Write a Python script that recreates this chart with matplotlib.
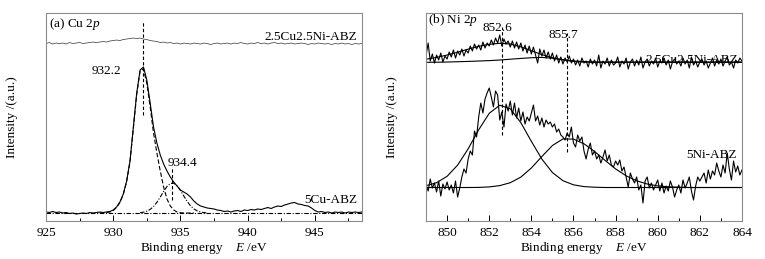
import numpy as np
import matplotlib
matplotlib.use("Agg")
import matplotlib.pyplot as plt
from matplotlib.ticker import MultipleLocator

plt.rcParams["font.family"] = ["Liberation Serif", "DejaVu Serif"]
plt.rcParams["mathtext.fontset"] = "custom"
plt.rcParams["mathtext.rm"] = "Liberation Serif"
plt.rcParams["mathtext.it"] = "Liberation Serif:italic"
plt.rcParams["font.size"] = 9.5

# ---- (a) Cu 2p : binding energy grid 925 .. 948.5 eV, step 0.25
cu_start, cu_stop, cu_step = 925.0, 948.5, 0.25

cu_ni_top = [
    177.5, 178.5, 177, 178,   177.5, 178, 177, 178.5,   177.5, 178, 178.5, 177.5,
    178, 178.5, 179, 178.5,   179, 179.5, 179, 180,     180.5, 181, 180.5, 181.5,
    182, 182.5, 183, 182.5,   183, 182, 181.5, 180.5,   180, 179.5, 178.5, 179,
    178, 178.5, 177.5, 178,   177, 178, 177.5, 177,     178, 177.5, 177, 178,
    177.5, 176.5, 177.5, 178, 177, 177.5, 178, 177,     178, 177.5, 178.5, 177.5,
    177, 178, 177.5, 178.5,   177.5, 178, 177, 178,     178.5, 177.5, 178, 177,
    177.5, 178, 177, 177.5,   178, 177.5, 176.5, 177.5, 177, 178, 177.5, 177,
    177.5, 176.5, 177.5, 177, 178, 177, 177.5, 176.5,   177.5, 177, 177.5,
]

cu_5cu = [
    9, 8.5, 9.5, 8.5,     9, 8, 8.5, 7.5,       8, 7, 7.5, 8,         7.5, 8.5, 8, 8.5,
    9, 8.5, 9, 9.5,       11, 14, 19, 27,       40, 60, 94, 128,      151, 154, 141, 118,
    94, 78, 66, 57,       50, 44, 39, 35,       31, 29, 27, 24,       20, 17, 15, 14,
    13, 12.5, 12, 11,     10.5, 9.5, 10, 9,     10, 10.5, 9.5, 11,    10.5, 11.5, 11, 12,
    11.5, 12.5, 13.5, 12.5, 14, 15, 14.5, 16,   17, 18, 18.5, 17,     16.5, 15.5, 15, 13,
    10.5, 9, 9.5, 8.5,    9, 8, 9, 8.5,         9, 8, 9, 8.5,         9, 8.5, 9,
]

# fitted components (929.0 .. 936.0 and 932.0 .. 937.0, step 0.25)
cu_peak1 = [8, 8.2, 8.5, 9, 10.5, 13.5, 18.5, 26.5, 39.5, 59.5, 93, 127,
            150, 152, 138, 114, 88, 68, 50, 34, 22, 15, 11, 9, 8.3, 8, 8, 8, 8]
cu_peak2 = [8.3, 8.8, 9.8, 11.6, 14.5, 18.7, 23.9, 29.6, 34.5, 37.5, 37.8,
            35.3, 30.6, 25.1, 19.7, 15.2, 12.1, 10.1, 9.0, 8.4, 8.2]
cu_base = 8

# ---- (b) Ni 2p : binding energy grid 849 .. 864 eV, step 0.1
ni_start, ni_stop, ni_step = 849.0, 864.0, 0.1

ni_cu_top = [
    165, 178, 160, 167, 158, 166, 161, 168, 159, 165,
    162, 169, 164, 171, 163, 170, 166, 172, 165, 171,
    168, 175, 170, 177, 172, 176, 171, 179, 173, 178,
    175, 181, 176, 183, 178, 186, 175, 182, 177, 180,
    174, 180, 173, 179, 172, 178, 170, 176, 168, 175,
    167, 174, 166, 158, 172, 165, 171, 163, 169, 162,
    168, 160, 166, 158, 164, 157, 163, 159, 165, 158,
    162, 156, 161, 155, 163, 158, 160, 154, 162, 157,
    161, 155, 166, 153, 160, 157, 163, 155, 161, 156,
    158, 164, 154, 160, 157, 163, 152, 159, 162, 155,
    161, 156, 164, 153, 159, 162, 155, 160, 157, 163,
    154, 160, 158, 163, 156, 161, 152, 159, 162, 157,
    160, 155, 163, 157, 161, 153, 164, 156, 160, 154,
    159, 162, 156, 160, 153, 158, 163, 155, 161, 157,
    162, 155, 160, 164, 156, 159, 153, 161, 158, 163,
    160,
]

ni_5ni = [
    36, 30, 42, 33, 38, 29, 40, 25, 37, 32,
    39, 31, 36, 28, 40, 24, 33, 44, 52, 48,
    62, 70, 66, 90, 84, 104, 118, 108, 122, 128,
    133, 124, 114, 130, 126, 101, 109, 94, 117, 110,
    120, 106, 118, 103, 113, 100, 109, 97, 104, 100,
    108, 116, 100, 105, 96, 103, 94, 101, 97, 99,
    94, 97, 89, 92, 86, 84, 81, 88, 84, 94,
    78, 74, 86, 80, 84, 70, 62, 72, 78, 66,
    70, 62, 66, 58, 64, 71, 60, 66, 56, 54,
    60, 56, 61, 50, 54, 44, 34, 48, 42, 38,
    44, 31, 36, 18, 40, 44, 33, 38, 31, 36,
    41, 30, 38, 28, 35, 30, 40, 34, 24, 31,
    36, 28, 41, 33, 38, 44, 30, 21, 35, 44,
    40, 44, 48, 38, 51, 42, 50, 46, 58, 50,
    44, 56, 48, 68, 52, 41, 60, 49, 55, 46,
    51,
]

# fitted components, 849 .. 864 eV step 0.5
ni_top_peak1 = [161.8, 163.6, 166.0, 168.8, 171.9, 174.7, 176.7, 177.7, 177.0,
                174.2, 170.3, 166.4, 163.3, 161.2, 160.0, 159.4, 159.1] + [159.0] * 14
ni_top_peak2 = [158.7, 158.8, 159.0, 159.3, 159.6, 160.0, 160.4, 161.0, 161.8,
                162.6, 163.3, 163.6, 162.8, 161.2, 159.6, 158.9] + [158.7] * 15
ni_bot_peak1 = [35.3, 38.3, 44.7, 55.9, 72.2, 91.2, 107.7, 115.8, 112.2, 98.4,
                79.7, 61.9, 48.5, 40.3, 36.2, 34.4, 33.8] + [33.5] * 14
ni_bot_peak2 = [33.5] * 5 + [33.6, 34.1, 35.4, 38.3, 43.9, 53.0, 64.5, 75.5, 82.1,
                             81.9, 77.2, 69.6, 60.6, 52.1, 45.2, 40.2, 37.0, 35.1,
                             34.2, 33.8] + [33.5] * 6

e_cu = np.round(np.arange(cu_start, cu_stop + 1e-6, cu_step), 2)
e_ni = np.round(np.arange(ni_start, ni_stop + 1e-6, ni_step), 2)
e_cu1 = np.arange(929.0, 936.0 + 1e-6, 0.25)
e_cu2 = np.arange(932.0, 937.0 + 1e-6, 0.25)
e_nifit = np.arange(849.0, 864.0 + 1e-6, 0.5)

fig = plt.figure(figsize=(7.65, 2.59), dpi=100)
ax1 = fig.add_axes([0.0601, 0.1467, 0.413, 0.803])
ax2 = fig.add_axes([0.5569, 0.1467, 0.413, 0.803])

lw = 0.8
dash = (0, (3, 2))

# panel (a)
ax1.plot(e_cu, cu_ni_top, color="#333333", lw=0.5)
ax1.plot(e_cu, cu_5cu, color="black", lw=lw)
ax1.plot(e_cu1, cu_peak1, color="black", lw=lw, ls=(0, (4, 2)))
ax1.plot(e_cu2, cu_peak2, color="black", lw=lw, ls=(0, (4, 1.5, 1, 1.5)))
ax1.plot([cu_start, cu_stop], [cu_base, cu_base], color="black", lw=lw,
         ls=(0, (4, 1.5, 1, 1.5)))
ax1.plot([932.2, 932.2], [106, 199], color="black", lw=lw, ls=dash)
ax1.plot([934.4, 934.4], [21, 54], color="black", lw=lw, ls=dash)

ax1.text(925.25, 197, "(a) Cu 2$p$", va="center", ha="left")
ax1.text(948.13, 184, "2.5Cu2.5Ni-ABZ", va="center", ha="right")
ax1.text(929.48, 150, "932.2", va="center", ha="center")
ax1.text(935.13, 58, "934.4", va="center", ha="center")
ax1.text(948.13, 21, "5Cu-ABZ", va="center", ha="right")

ax1.set_xlim(cu_start, cu_stop)
ax1.xaxis.set_major_locator(MultipleLocator(5))
ax1.xaxis.set_minor_locator(MultipleLocator(2.5))

# panel (b)
ax2.plot(e_ni, ni_cu_top, color="black", lw=lw)
ax2.plot(e_nifit, ni_top_peak1, color="black", lw=lw)
ax2.plot(e_nifit, ni_top_peak2, color="black", lw=lw)
ax2.plot(e_ni, ni_5ni, color="black", lw=lw)
ax2.plot(e_nifit, ni_bot_peak1, color="black", lw=lw)
ax2.plot(e_nifit, ni_bot_peak2, color="black", lw=lw)
ax2.plot([852.6, 852.6], [86, 194], color="black", lw=lw, ls=dash)
ax2.plot([855.7, 855.7], [69, 188], color="black", lw=lw, ls=dash)

ax2.text(849.1, 201, "(b) Ni 2$p$", va="center", ha="left")
ax2.text(852.37, 193.5, "852.6", va="center", ha="center")
ax2.text(855.5, 186, "855.7", va="center", ha="center")
ax2.text(863.81, 161, "2.5Cu2.5Ni-ABZ", va="center", ha="right")
ax2.text(863.76, 66, "5Ni-ABZ", va="center", ha="right")

ax2.set_xlim(ni_start, ni_stop)
ax2.xaxis.set_major_locator(MultipleLocator(2))
ax2.xaxis.set_minor_locator(MultipleLocator(1))

for ax in (ax1, ax2):
    ax.set_ylim(0, 208)
    ax.set_yticks([])
    for s in ax.spines.values():
        s.set_color("#8c8c8c")
        s.set_linewidth(0.8)
    ax.tick_params(axis="x", which="both", direction="in", top=False,
                   color="black", width=0.7, pad=4, labelsize=9.5)
    ax.tick_params(axis="x", which="major", length=4)
    ax.tick_params(axis="x", which="minor", length=2.5)
    ax.set_xlabel("Binding energy    $E$ /eV", labelpad=1)
    ax.set_ylabel("Intensity /(a.u.)", labelpad=20)

fig.savefig("out.png", dpi=100)
